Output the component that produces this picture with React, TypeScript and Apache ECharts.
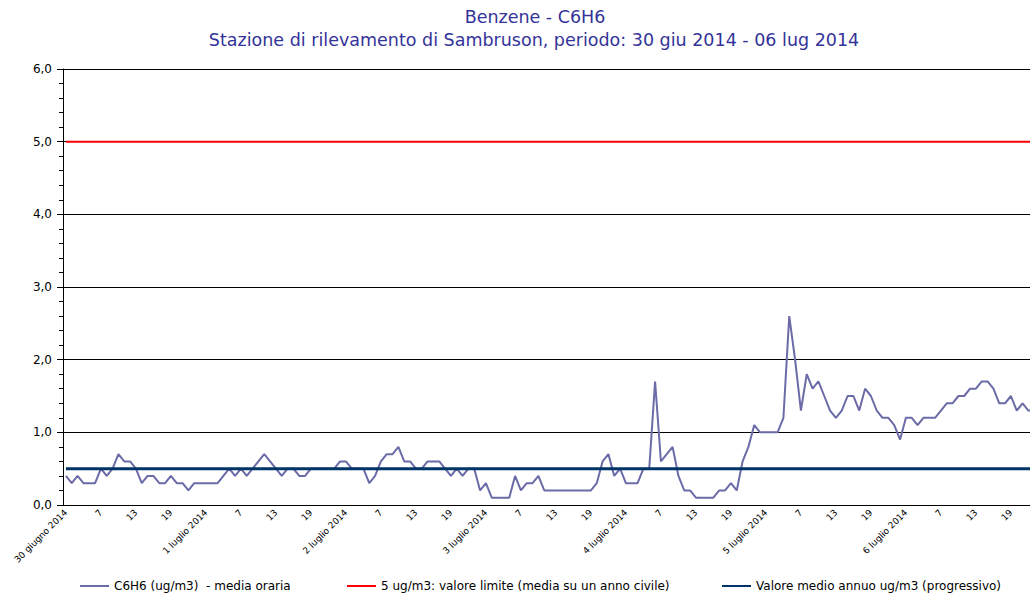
import React, { useEffect, useRef } from "react";
import * as echarts from "echarts";

const dayLabels = [
  "30 giugno 2014",
  "1 luglio 2014",
  "2 luglio 2014",
  "3 luglio 2014",
  "4 luglio 2014",
  "5 luglio 2014",
  "6 luglio 2014",
];

const d30giu = [0.4, 0.3, 0.4, 0.3, 0.3, 0.3, 0.5, 0.4, 0.5, 0.7, 0.6, 0.6, 0.5, 0.3, 0.4, 0.4, 0.3, 0.3, 0.4, 0.3, 0.3, 0.2, 0.3, 0.3];
const d01lug = [0.3, 0.3, 0.3, 0.4, 0.5, 0.4, 0.5, 0.4, 0.5, 0.6, 0.7, 0.6, 0.5, 0.4, 0.5, 0.5, 0.4, 0.4, 0.5, 0.5, 0.5, 0.5, 0.5, 0.6];
const d02lug = [0.6, 0.5, 0.5, 0.5, 0.3, 0.4, 0.6, 0.7, 0.7, 0.8, 0.6, 0.6, 0.5, 0.5, 0.6, 0.6, 0.6, 0.5, 0.4, 0.5, 0.4, 0.5, 0.5, 0.2];
const d03lug = [0.3, 0.1, 0.1, 0.1, 0.1, 0.4, 0.2, 0.3, 0.3, 0.4, 0.2, 0.2, 0.2, 0.2, 0.2, 0.2, 0.2, 0.2, 0.2, 0.3, 0.6, 0.7, 0.4, 0.5];
const d04lug = [0.3, 0.3, 0.3, 0.5, 0.5, 1.7, 0.6, 0.7, 0.8, 0.4, 0.2, 0.2, 0.1, 0.1, 0.1, 0.1, 0.2, 0.2, 0.3, 0.2, 0.6, 0.8, 1.1, 1.0];
const d05lug = [1.0, 1.0, 1.0, 1.2, 2.6, 2.0, 1.3, 1.8, 1.6, 1.7, 1.5, 1.3, 1.2, 1.3, 1.5, 1.5, 1.3, 1.6, 1.5, 1.3, 1.2, 1.2, 1.1, 0.9];
const d06lug = [1.2, 1.2, 1.1, 1.2, 1.2, 1.2, 1.3, 1.4, 1.4, 1.5, 1.5, 1.6, 1.6, 1.7, 1.7, 1.6, 1.4, 1.4, 1.5, 1.3, 1.4, 1.3, 1.3, 1.3];

const limitValue = 5;
const annualMean = 0.5;

const seriesNames = [
  "C6H6 (ug/m3)  - media oraria",
  "5 ug/m3: valore limite (media su un anno civile)",
  "Valore medio annuo ug/m3 (progressivo)",
];

const titleLine1 = "Benzene - C6H6";
const titleLine2 = "Stazione di rilevamento di Sambruson, periodo: 30 giu 2014 - 06 lug 2014";

const hourlyValues = [...d30giu, ...d01lug, ...d02lug, ...d03lug, ...d04lug, ...d05lug, ...d06lug];
const categories = dayLabels.flatMap((d) =>
  Array.from({ length: 24 }, (_, h) => (h === 0 ? d : String(h + 1)))
);

export default function App() {
  const ref = useRef<HTMLDivElement>(null);
  useEffect(() => {
    if (!ref.current) return;
    const chart = echarts.init(ref.current, undefined, { renderer: "svg" });
    const font = "DejaVu Sans";
    chart.setOption({
      animation: false,
      backgroundColor: "#ffffff",
      graphic: [
        {
          type: "text",
          x: 535,
          y: 17,
          style: {
            text: titleLine1,
            font: '17.5px "DejaVu Sans"',
            fill: "#333399",
            textAlign: "center",
            textVerticalAlign: "middle",
          },
        },
        {
          type: "text",
          x: 534,
          y: 40,
          style: {
            text: titleLine2,
            font: '17.5px "DejaVu Sans"',
            fill: "#333399",
            textAlign: "center",
            textVerticalAlign: "middle",
          },
        },
      ],
      legend: [
        { left: 80, name: seriesNames[0] },
        { left: 347, name: seriesNames[1] },
        { left: 722, name: seriesNames[2] },
      ].map((l) => ({
        data: [l.name],
        left: l.left,
        top: 580,
        padding: 0,
        icon: "rect",
        itemWidth: 29,
        itemHeight: 2,
        textStyle: { fontSize: 12, fontFamily: font, color: "#000" },
      })),
      grid: { left: 63, top: 69, width: 980, height: 436, containLabel: false },
      xAxis: {
        type: "category",
        data: categories,
        boundaryGap: true,
        axisLine: { lineStyle: { color: "#000", width: 1 } },
        axisTick: { interval: 5, length: 5, lineStyle: { color: "#000" } },
        axisLabel: {
          interval: 5,
          rotate: 45,
          fontSize: 9,
          fontFamily: font,
          color: "#000",
          margin: 6,
        },
        splitLine: { show: false },
      },
      yAxis: {
        type: "value",
        min: 0,
        max: 6,
        interval: 1,
        axisLine: { show: true, lineStyle: { color: "#000", width: 1 } },
        axisTick: { show: true, length: 6, lineStyle: { color: "#000" } },
        minorTick: { show: true, splitNumber: 5, length: 4, lineStyle: { color: "#000" } },
        axisLabel: {
          fontSize: 12,
          fontFamily: font,
          color: "#000",
          margin: 11,
          formatter: (v: number) => v.toFixed(1).replace(".", ","),
        },
        splitLine: { show: true, lineStyle: { color: "#000", width: 1 } },
      },
      series: [
        {
          name: seriesNames[0],
          type: "line",
          data: hourlyValues,
          showSymbol: false,
          symbol: "none",
          color: "#6b6ba8",
          lineStyle: { color: "#6b6ba8", width: 2 },
        },
        {
          name: seriesNames[1],
          type: "line",
          data: categories.map(() => limitValue),
          showSymbol: false,
          symbol: "none",
          color: "#ff0000",
          lineStyle: { color: "#ff0000", width: 2 },
        },
        {
          name: seriesNames[2],
          type: "line",
          data: categories.map(() => annualMean),
          showSymbol: false,
          symbol: "none",
          color: "#003366",
          lineStyle: { color: "#003366", width: 3 },
        },
      ],
    });
    return () => chart.dispose();
  }, []);
  return (
    <div
      style={{ position: "fixed", left: 0, top: 0, width: 1030, height: 596, overflow: "hidden", background: "#fff" }}
    >
      <div ref={ref} style={{ width: 1060, height: 596 }} />
    </div>
  );
}
